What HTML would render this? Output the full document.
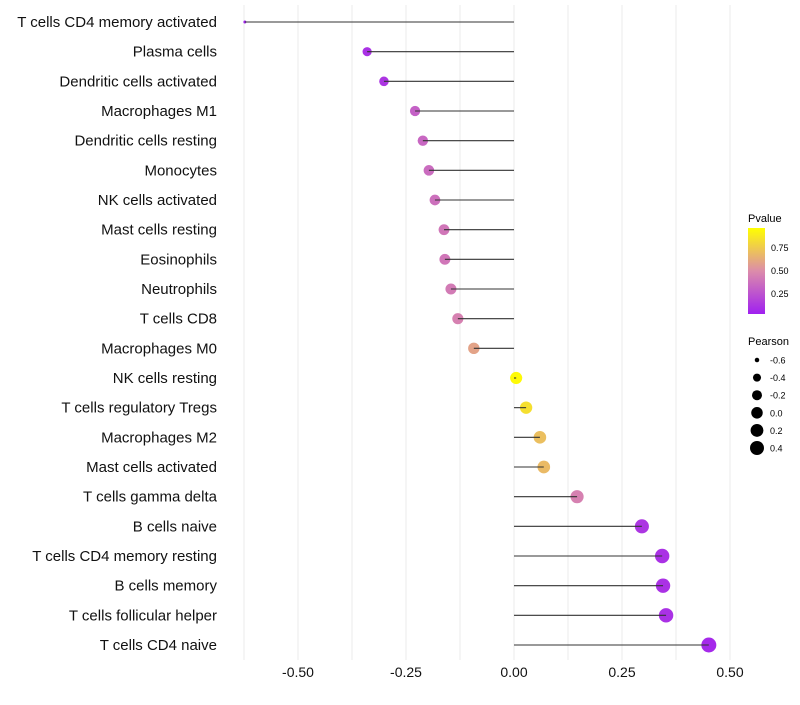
<!DOCTYPE html>
<html><head><meta charset="utf-8"><style>
body{margin:0;background:#fff;width:800px;height:700px;overflow:hidden;font-family:"Liberation Sans",sans-serif}
</style></head><body>
<svg id="chart" width="800" height="700" xmlns="http://www.w3.org/2000/svg" font-family="Liberation Sans, sans-serif">
<defs><linearGradient id="pg" x1="0" y1="1" x2="0" y2="0">
<stop offset="0" stop-color="#a020f0"/><stop offset="0.5" stop-color="#dc8caa"/><stop offset="1" stop-color="#ffff00"/>
</linearGradient></defs>
<g id="grid"></g>
<g id="marks"></g>
<g id="ylabels"></g>
<g id="xlabels"></g>
<g>
<text x="748" y="222" font-size="11" fill="#000">Pvalue</text>
<rect x="748" y="228" width="17" height="86" fill="url(#pg)"/>
<text x="771" y="251" font-size="9">0.75</text>
<text x="771" y="274" font-size="9">0.50</text>
<text x="771" y="297" font-size="9">0.25</text>
</g>
<g id="sizeleg">
<text x="748" y="345" font-size="11">Pearson</text>
</g>
</svg>
<script>
const cats=["T cells CD4 memory activated","Plasma cells","Dendritic cells activated","Macrophages M1","Dendritic cells resting","Monocytes","NK cells activated","Mast cells resting","Eosinophils","Neutrophils","T cells CD8","Macrophages M0","NK cells resting","T cells regulatory  Tregs ","Macrophages M2","Mast cells activated","T cells gamma delta","B cells naive","T cells CD4 memory resting","B cells memory","T cells follicular helper","T cells CD4 naive"];
const pearson=[-0.623,-0.340,-0.301,-0.229,-0.211,-0.197,-0.183,-0.162,-0.160,-0.146,-0.130,-0.093,0.005,0.028,0.060,0.069,0.146,0.296,0.343,0.345,0.352,0.451];
const pvalue=[0.01,0.08,0.10,0.30,0.33,0.35,0.37,0.40,0.40,0.42,0.45,0.60,0.98,0.86,0.72,0.70,0.45,0.10,0.08,0.08,0.08,0.04];
const xTicks=[-0.5,-0.25,0,0.25,0.5];
const xTickLabels=["-0.50","-0.25","0.00","0.25","0.50"];
const gridVals=[-0.625,-0.5,-0.375,-0.25,-0.125,0,0.125,0.25,0.375,0.5];
const sizeLegVals=[-0.6,-0.4,-0.2,0.0,0.2,0.4];
const sizeLegLabels=["-0.6","-0.4","-0.2","0.0","0.2","0.4"];
const NS="http://www.w3.org/2000/svg";
const x=v=>514+v*432;
const y=i=>22+i*(623/21);
const pmin=Math.min(...pearson),pmax=Math.max(...pearson);
const r=v=>{const t=Math.max(0,(v-pmin)/(pmax-pmin));return 1.5+6*Math.sqrt(t);};
function mix(a,b,t){return a.map((c,k)=>Math.round(c+(b[k]-c)*t));}
function col(p){const A=[160,32,240],B=[220,140,170],C=[255,255,0];p=Math.max(0,Math.min(1,p));const c=p<0.5?mix(A,B,p/0.5):mix(B,C,(p-0.5)/0.5);return `rgb(${c})`;}
function el(t,a,parent){const e=document.createElementNS(NS,t);for(const k in a)e.setAttribute(k,a[k]);parent.appendChild(e);return e;}
const grid=document.getElementById('grid'),marks=document.getElementById('marks'),yl=document.getElementById('ylabels'),xl=document.getElementById('xlabels'),sl=document.getElementById('sizeleg');
gridVals.forEach(v=>{const g=el('line',{x1:x(v),x2:x(v),y1:5,y2:660,stroke:'#ebebeb','stroke-width':1},grid);

});
cats.forEach((c,i)=>{
const d=el('circle',{cx:x(pearson[i]),cy:y(i),r:r(pearson[i]),fill:col(pvalue[i])},marks);


const l=el('line',{x1:x(0),x2:x(pearson[i]),y1:y(i),y2:y(i),stroke:'#333','stroke-width':1.1},marks);


const t=el('text',{x:217,y:y(i)+5,'text-anchor':'end','font-size':15,fill:'#111'},yl);t.textContent=c;

});
xTicks.forEach((v,i)=>{const t=el('text',{x:x(v),y:677,'text-anchor':'middle','font-size':14,fill:'#111'},xl);t.textContent=xTickLabels[i];

});
sizeLegVals.forEach((v,i)=>{const cy=360+i*17.6;
const c=el('circle',{cx:757,cy:cy,r:Math.max(2,r(v)*0.95),fill:'#000'},sl);


const t=el('text',{x:770,y:cy+3.5,'font-size':9},sl);t.textContent=sizeLegLabels[i];

});
</script>
</body></html>
